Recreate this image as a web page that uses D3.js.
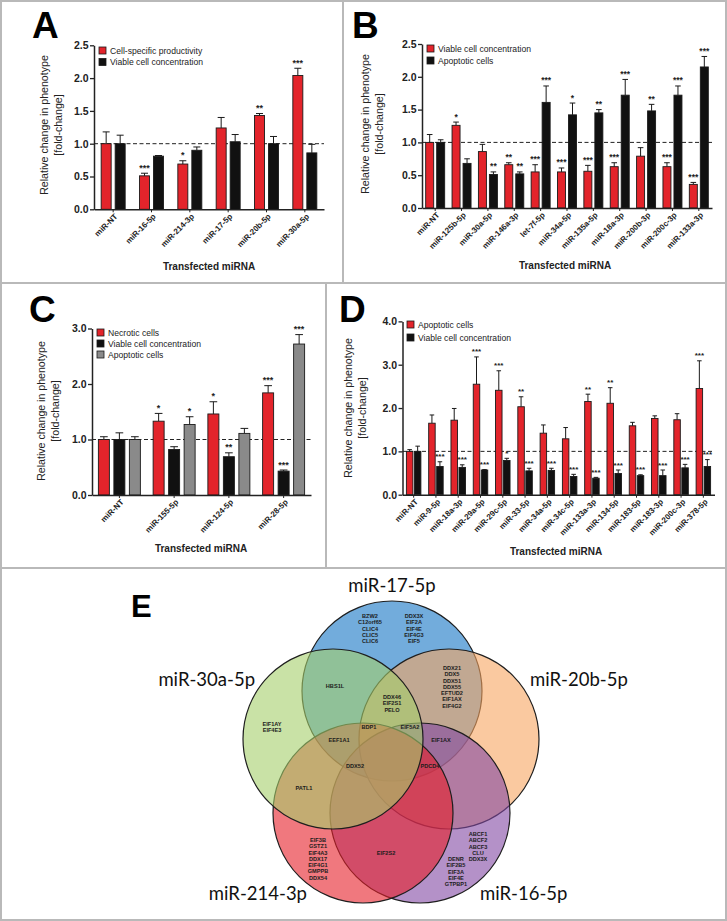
<!DOCTYPE html>
<html><head><meta charset="utf-8">
<script src="https://cdn.jsdelivr.net/npm/d3@7"></script>
<style>body{margin:0;background:#fff} svg{display:block}</style>
</head><body><svg id="fig" width="727" height="921"></svg>
<script>
// ---------------- DATA ----------------
const aCats = ["miR-NT","miR-16-5p","miR-214-3p","miR-17-5p","miR-20b-5p","miR-30a-5p"];
const aProd = [1.00,0.51,0.69,1.24,1.43,2.04];
const aProdErr = [0.18,0.04,0.05,0.16,0.03,0.11];
const aProdSig = ["","***","*","","**","***"];
const aVcc = [1.00,0.81,0.90,1.03,1.00,0.86];
const aVccErr = [0.13,0.01,0.05,0.11,0.11,0.13];
const aVccSig = ["","","","","",""];
const aTicks = [0,0.5,1.0,1.5,2.0,2.5];

const bCats = ["miR-NT","miR-125b-5p","miR-30a-5p","miR-146a-3p","let-7f-5p","miR-34a-5p","miR-135a-5p","miR-18a-3p","miR-200b-3p","miR-200c-3p","miR-133a-3p"];
const bVcc = [1.00,1.26,0.86,0.66,0.55,0.55,0.56,0.63,0.79,0.63,0.36];
const bVccErr = [0.12,0.05,0.11,0.03,0.11,0.06,0.09,0.06,0.13,0.06,0.03];
const bVccSig = ["","*","","**","***","***","***","***","","***","***"];
const bApo = [1.00,0.68,0.51,0.52,1.61,1.42,1.45,1.72,1.48,1.72,2.15];
const bApoErr = [0.04,0.07,0.04,0.03,0.25,0.18,0.05,0.24,0.10,0.14,0.16];
const bApoSig = ["","","**","**","***","*","**","***","**","***","***"];
const bTicks = [0,0.5,1.0,1.5,2.0,2.5];

const cCats = ["miR-NT","miR-155-5p","miR-124-5p","miR-28-5p"];
const cNec = [1.00,1.33,1.46,1.84];
const cNecErr = [0.05,0.14,0.22,0.13];
const cNecSig = ["","*","*","***"];
const cVcc = [1.00,0.82,0.69,0.43];
const cVccErr = [0.12,0.05,0.07,0.02];
const cVccSig = ["","","**","***"];
const cApo = [1.00,1.27,1.11,2.72];
const cApoErr = [0.05,0.14,0.09,0.17];
const cApoSig = ["","*","","***"];
const cTicks = [0,1,2,3];

const dCats = ["miR-NT","miR-9-5p","miR-18a-3p","miR-29a-5p","miR-29c-5p","miR-33-5p","miR-34a-5p","miR-34c-5p","miR-133a-3p","miR-134-5p","miR-183-5p","miR-183-3p","miR-200c-3p","miR-378-5p"];
const dApo = [1.00,1.65,1.72,2.55,2.41,2.03,1.42,1.29,2.15,2.11,1.59,1.76,1.73,2.45];
const dApoErr = [0.04,0.19,0.27,0.63,0.45,0.23,0.19,0.26,0.17,0.36,0.08,0.06,0.14,0.64];
const dApoSig = ["","","","***","***","**","","","**","**","","","","***"];
const dVcc = [1.00,0.65,0.63,0.57,0.79,0.55,0.56,0.42,0.38,0.49,0.44,0.44,0.62,0.65];
const dVccErr = [0.12,0.11,0.06,0.01,0.05,0.06,0.05,0.05,0.02,0.08,0.02,0.13,0.08,0.16];
const dVccSig = ["","***","***","***","*","***","***","***","***","***","***","***","***","***"];
const dTicks = [0,1,2,3,4];

const yTitle = ["Relative change in phenotype","[fold-change]"];
const xTitle = "Transfected miRNA";

// Venn
const vennSets = ["miR-17-5p","miR-30a-5p","miR-20b-5p","miR-214-3p","miR-16-5p"];
const g17a = ["BZW2","C12orf65","CLIC4","CLIC5","CLIC6"];
const g17b = ["DDX3X","EIF2A","EIF4E","EIF4G3","EIF5"];
const g17_20b = ["DDX21","DDX5","DDX51","DDX55","EFTUD2","EIF1AX","EIF4G2"];
const g17_30a = ["HBS1L"];
const g17_30a_20b = ["DDX46","EIF2S1","PELO"];
const g30a = ["EIF1AY","EIF4E3"];
const gBDP = ["BDP1"];
const gEIF5A2 = ["EIF5A2"];
const gEEF = ["EEF1A1"];
const gEIF1AX = ["EIF1AX"];
const gDDX52 = ["DDX52"];
const gPDCD4 = ["PDCD4"];
const gPATL = ["PATL1"];
const g214 = ["EIF3B","GSTZ1","EIF4A3","DDX17","EIF4G1","GMPPB","DDX54"];
const g214_16 = ["EIF2S2"];
const g16a = ["ABCF1","ABCF2","ABCF3","CLU","DDX3X"];
const g16b = ["DENR","EIF2B5","EIF3A","EIF4E","GTPBP1"];

// ---------------- DRAWING ----------------
const svg = d3.select("#fig");
const FONT = "Arial, 'Liberation Sans', sans-serif";
const RED = "#e3242b", BLACK = "#111111", GRAY = "#8a8a8a";

// frame
const frame = svg.append("g").attr("stroke","#b9b9b9").attr("stroke-width",2).attr("fill","none");
frame.append("rect").attr("x",1).attr("y",1).attr("width",725).attr("height",919);
frame.append("line").attr("x1",343).attr("x2",343).attr("y1",0).attr("y2",283);
frame.append("line").attr("x1",0).attr("x2",727).attr("y1",283).attr("y2",283);
frame.append("line").attr("x1",326).attr("x2",326).attr("y1",283).attr("y2",568);
frame.append("line").attr("x1",0).attr("x2",727).attr("y1",568).attr("y2",568);

function barPanel(p){
  const g = svg.append("g");
  const x = d3.scaleBand().domain(p.cats).range([p.x0,p.x1]);
  const y = d3.scaleLinear().domain([0,p.yMax]).range([p.y0,p.yTop]);
  // letter
  g.append("text").attr("x",p.letter[1]).attr("y",p.letter[2]).text(p.letter[0])
    .attr("font-family",FONT).attr("font-weight","bold").attr("font-size",37).attr("fill","#000");
  // dashed reference
  g.append("line").attr("x1",p.x0).attr("x2",p.x1).attr("y1",y(1)).attr("y2",y(1))
    .attr("stroke","#222").attr("stroke-width",1).attr("stroke-dasharray","4,2.5");
  // bars
  p.series.forEach((s,i)=>{
    const off = p.offsets[i];
    const cx = j => x(p.cats[j]) + x.bandwidth()/2 + off;
    const gs = g.append("g");
    // error bars
    gs.selectAll("line.e").data(s.vals).join("line").attr("class","e")
      .attr("x1",(d,j)=>cx(j)).attr("x2",(d,j)=>cx(j))
      .attr("y1",d=>y(d)).attr("y2",(d,j)=>y(d+s.errs[j]))
      .attr("stroke","#1a1a1a").attr("stroke-width",1);
    gs.selectAll("line.c").data(s.vals).join("line").attr("class","c")
      .attr("x1",(d,j)=>cx(j)-p.bw*0.35).attr("x2",(d,j)=>cx(j)+p.bw*0.35)
      .attr("y1",(d,j)=>y(d+s.errs[j])).attr("y2",(d,j)=>y(d+s.errs[j]))
      .attr("stroke","#1a1a1a").attr("stroke-width",1);
    gs.selectAll("rect").data(s.vals).join("rect")
      .attr("x",(d,j)=>cx(j)-p.bw/2).attr("y",d=>y(d))
      .attr("width",p.bw).attr("height",d=>y(0)-y(d))
      .attr("fill",s.color).attr("stroke","#1a1a1a").attr("stroke-width",0.9);
    gs.selectAll("text").data(s.vals).join("text")
      .attr("x",(d,j)=>cx(j)).attr("y",(d,j)=>y(d+s.errs[j])-2.5)
      .attr("text-anchor","middle").attr("font-family",FONT).attr("font-weight","bold")
      .attr("font-size",p.starSize).attr("fill","#222")
      .text((d,j)=>s.sig[j]);
  });
  // axes
  const ya = g.append("g").attr("transform",`translate(${p.x0},0)`)
    .call(d3.axisLeft(y).tickValues(p.ticks).tickFormat(d3.format(".1f")).tickSize(4).tickSizeOuter(0).tickPadding(1.5));
  ya.select(".domain").attr("stroke","#222").attr("stroke-width",1.5);
  ya.selectAll(".tick line").attr("stroke","#222").attr("stroke-width",1.3);
  ya.selectAll("text").attr("font-family",FONT).attr("font-weight","bold").attr("font-size",10.5).attr("fill","#222");
  const xa = g.append("g").attr("transform",`translate(0,${p.y0})`)
    .call(d3.axisBottom(x).tickSize(3).tickSizeOuter(0));
  xa.select(".domain").attr("stroke","#222").attr("stroke-width",1.5);
  xa.selectAll(".tick line").attr("stroke","#222").attr("stroke-width",1);
  xa.selectAll("text").attr("font-family",FONT).attr("font-weight","bold").attr("font-size",p.xlabSize).attr("fill","#222")
    .attr("text-anchor","end").attr("x",-2).attr("y",6).attr("dy","0.35em").attr("transform","rotate(-45)");
  // titles
  g.append("text").attr("x",p.xt[0]).attr("y",p.xt[1]).attr("text-anchor","middle")
    .attr("font-family",FONT).attr("font-weight","bold").attr("font-size",10).attr("fill","#222").text(xTitle);
  yTitle.forEach((t,i)=>{
    g.append("text").attr("transform",`translate(${p.yt[0]+i*13.5},${p.yt[1]}) rotate(-90)`)
      .attr("text-anchor","middle").attr("font-family",FONT).attr("font-size",10.6).attr("fill","#222").text(t);
  });
  // legend
  p.series.forEach((s,i)=>{
    const ly = p.leg[1] + i*p.leg[2];
    g.append("rect").attr("x",p.leg[0]).attr("y",ly).attr("width",7).attr("height",7)
      .attr("fill",s.color).attr("stroke","#1a1a1a").attr("stroke-width",0.8);
    g.append("text").attr("x",p.leg[0]+11).attr("y",ly+6.7).attr("font-family",FONT)
      .attr("font-size",8.6).attr("fill","#222").text(s.name);
  });
}

barPanel({cats:aCats, x0:94, x1:324, y0:209.3, yTop:209.3-2.5*65.6, yMax:2.5, ticks:aTicks,
  bw:10, offsets:[-7,7], starSize:9, xlabSize:8,
  letter:["A",32,38], xt:[209,270], yt:[48,125], leg:[99,47,11.5],
  series:[{name:"Cell-specific productivity",color:RED,vals:aProd,errs:aProdErr,sig:aProdSig},
          {name:"Viable cell concentration",color:BLACK,vals:aVcc,errs:aVccErr,sig:aVccSig}]});

barPanel({cats:bCats, x0:422, x1:712, y0:208, yTop:208-2.5*65.6, yMax:2.5, ticks:bTicks,
  bw:8, offsets:[-5.5,5.5], starSize:8.5, xlabSize:8,
  letter:["B",352,38], xt:[565,269], yt:[369,124], leg:[427,45,12],
  series:[{name:"Viable cell concentration",color:RED,vals:bVcc,errs:bVccErr,sig:bVccSig},
          {name:"Apoptotic cells",color:BLACK,vals:bApo,errs:bApoErr,sig:bApoSig}]});

barPanel({cats:cCats, x0:92, x1:311, y0:495, yTop:495-3*55.5, yMax:3, ticks:cTicks,
  bw:11, offsets:[-15.5,0,15.5], starSize:9, xlabSize:8,
  letter:["C",29,322], xt:[201,552], yt:[45,411], leg:[97,329,11],
  series:[{name:"Necrotic cells",color:RED,vals:cNec,errs:cNecErr,sig:cNecSig},
          {name:"Viable cell concentration",color:BLACK,vals:cVcc,errs:cVccErr,sig:cVccSig},
          {name:"Apoptotic cells",color:GRAY,vals:cApo,errs:cApoErr,sig:cApoSig}]});

barPanel({cats:dCats, x0:402.5, x1:714.5, y0:494.7, yTop:494.7-4*43.33, yMax:4, ticks:dTicks,
  bw:6.5, offsets:[-4,4], starSize:8, xlabSize:8,
  letter:["D",339,322], xt:[556,555], yt:[352,408], leg:[407,321,13],
  series:[{name:"Apoptotic cells",color:RED,vals:dApo,errs:dApoErr,sig:dApoSig},
          {name:"Viable cell concentration",color:BLACK,vals:dVcc,errs:dVccErr,sig:dVccSig}]});

// ---------------- VENN (panel E) ----------------
const vg = svg.append("g");
vg.append("text").attr("x",131).attr("y",617).text("E").attr("font-family",FONT)
  .attr("font-weight","bold").attr("font-size",31).attr("fill","#000");
const circ = [
  {set:vennSets[0], cx:392, cy:691, r:90, fill:"rgb(20,117,197)"},
  {set:vennSets[2], cx:449, cy:739, r:90, fill:"rgb(247,165,97)"},
  {set:vennSets[4], cx:420, cy:813, r:90, fill:"rgb(130,72,163)"},
  {set:vennSets[3], cx:363, cy:813, r:90, fill:"rgb(230,30,40)"},
  {set:vennSets[1], cx:333, cy:739, r:90, fill:"rgb(165,207,107)"}
];
vg.selectAll("circle").data(circ).join("circle")
  .attr("cx",d=>d.cx).attr("cy",d=>d.cy).attr("r",d=>d.r)
  .attr("fill",d=>d.fill).attr("fill-opacity",0.6)
  .attr("stroke","#1e1e1e").attr("stroke-width",1.2);

const setLabels = [
  {t:vennSets[0], x:392, y:592, a:"middle"},
  {t:vennSets[1], x:255, y:686, a:"end"},
  {t:vennSets[2], x:530, y:686, a:"start"},
  {t:vennSets[3], x:307, y:900, a:"end"},
  {t:vennSets[4], x:480, y:900, a:"start"}
];
vg.selectAll("text.set").data(setLabels).join("text").attr("class","set")
  .attr("x",d=>d.x).attr("y",d=>d.y).attr("text-anchor",d=>d.a)
  .attr("font-family","Lato, 'Open Sans', sans-serif").attr("font-size",18.5).attr("fill","#111")
  .text(d=>d.t);

const geneGroups = [
  {g:g17a, x:370, y:616}, {g:g17b, x:414, y:616},
  {g:g17_20b, x:452, y:668}, {g:g17_30a, x:335, y:686},
  {g:g17_30a_20b, x:392, y:697}, {g:g30a, x:272, y:724},
  {g:gBDP, x:369, y:727}, {g:gEIF5A2, x:410, y:727},
  {g:gEEF, x:339, y:740}, {g:gEIF1AX, x:441, y:740},
  {g:gDDX52, x:355, y:766}, {g:gPDCD4, x:430, y:766},
  {g:gPATL, x:304, y:788}, {g:g214, x:318, y:840},
  {g:g214_16, x:386, y:853}, {g:g16a, x:478, y:834}, {g:g16b, x:456, y:859}
];
geneGroups.forEach(gg=>{
  vg.append("g").selectAll("text").data(gg.g).join("text")
    .attr("x",gg.x).attr("y",(d,i)=>gg.y+i*6.3).attr("dy","0.35em")
    .attr("text-anchor","middle").attr("font-family",FONT).attr("font-weight","bold")
    .attr("font-size",5.6).attr("fill","#1c1c1c").text(d=>d);
});
</script></body></html>
